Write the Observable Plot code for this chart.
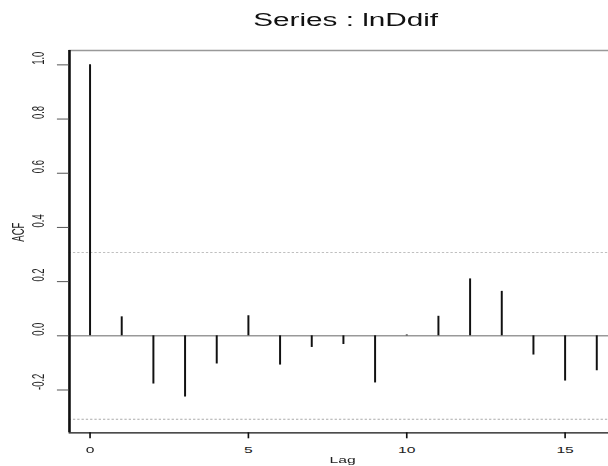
<!DOCTYPE html>
<html>
<head>
<meta charset="utf-8">
<script src="https://cdn.jsdelivr.net/npm/d3@7"></script>
<script src="https://cdn.jsdelivr.net/npm/@observablehq/plot@0.6"></script>
<style>
  html, body { margin: 0; padding: 0; background: #fff; overflow: hidden; width: 608px; height: 466px; }
  #fig { position: relative; width: 376px; height: 466px; transform: scaleX(1.65); transform-origin: 0 0; }
  #title { position: absolute; left: 0; top: 10.6px; width: 419px; text-align: center;
           font: 18px/18px "Liberation Sans", Arial, Helvetica, sans-serif; color: #111; white-space: nowrap; }
  #chart { position: absolute; left: 0; top: 40px; }
</style>
</head>
<body>
<div id="fig">
  <div id="title"></div>
  <div id="chart"></div>
</div>
<script>
// ---- data ----
const titleText = "Series : lnDdif";
const lags = [0, 1, 2, 3, 4, 5, 6, 7, 8, 9, 10, 11, 12, 13, 14, 15, 16];
const acf  = [1.0, 0.070, -0.178, -0.226, -0.104, 0.074, -0.108, -0.043, -0.032, -0.174, 0.003, 0.072, 0.210, 0.164, -0.071, -0.167, -0.129];
const ciBounds = [0.308, -0.308];
const xTicks = [0, 5, 10, 15];
const yTicks = [-0.2, 0.0, 0.2, 0.4, 0.6, 0.8, 1.0];
const yLabels = ["-0.2", "0.0", "0.2", "0.4", "0.6", "0.8", "1.0"];
const xLabel = "Lag";
const yLabel = "ACF";
const xDomain = [-0.65, 16.6];
const yDomain = [-0.358, 1.053];

const rows = lags.map((lag, i) => ({lag, acf: acf[i]}));
const yTickRows = yTicks.map((v, i) => ({v, label: yLabels[i]}));

document.getElementById("title").textContent = titleText;

const font = "'Liberation Sans', Arial, Helvetica, sans-serif";

const chart = Plot.plot({
  width: 376,
  height: 426,
  marginLeft: 41.6,
  marginRight: 3.3,
  marginTop: 10,
  marginBottom: 33.7,
  x: {type: "linear", domain: xDomain, axis: null},
  y: {type: "linear", domain: yDomain, axis: null},
  style: {fontFamily: font, background: "white", overflow: "visible", color: "#222"},
  marks: [
    Plot.ruleY(ciBounds, {stroke: "#aaa", strokeWidth: 0.9, strokeDasharray: "1.4,1.2"}),
    Plot.ruleY([0], {stroke: "#999", strokeWidth: 1.4}),
    Plot.ruleY([yDomain[1]], {stroke: "#999", strokeWidth: 1.5}),
    Plot.ruleY([yDomain[0]], {stroke: "#111", strokeWidth: 1.3}),
    Plot.ruleX(rows, {x: "lag", y1: 0, y2: "acf", stroke: "#111", strokeWidth: 1.2}),
    Plot.ruleX([xDomain[0]], {stroke: "#111", strokeWidth: 1.6}),
    Plot.axisY({ticks: yTicks, tickSize: 7.1, tickFormat: () => "", label: null, stroke: "#555"}),
    Plot.text(yTickRows, {y: "v", text: "label", frameAnchor: "left", dx: -18.6, rotate: -90,
                          fontSize: 9.5, fill: "#222"}),
    Plot.text([yLabel], {text: d => d, frameAnchor: "left", dx: -30.7, rotate: -90, fontSize: 9.5, fill: "#222"}),
    Plot.axisX({ticks: xTicks, tickSize: 6, tickPadding: 7.5, fontSize: 9.5, label: null,
                stroke: "#111", fill: "#222", tickFormat: d => String(d)}),
    Plot.text([xLabel], {text: d => d, frameAnchor: "bottom", dy: 23.7, lineAnchor: "top", fontSize: 9.5, fill: "#222"})
  ]
});
document.getElementById("chart").appendChild(chart);
</script>
</body>
</html>
